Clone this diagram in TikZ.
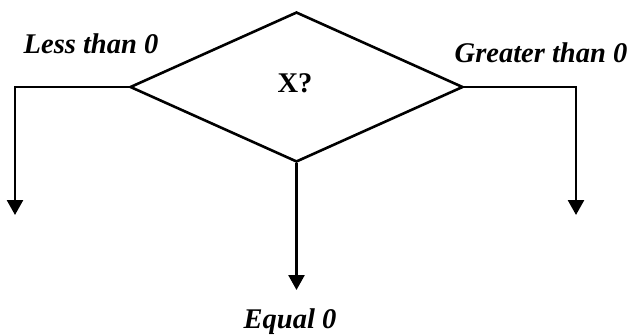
\documentclass[tikz,border=0pt]{standalone}
\usepackage{fontspec}
\setmainfont{Liberation Serif}
\usetikzlibrary{shapes.geometric,arrows.meta}
\tikzset{
  line/.style={line width=2.6pt, line join=miter},
  arr/.style={line, -{Triangle[width=16pt,length=15pt]}},
  lbl/.style={font=\fontsize{28.5}{30}\selectfont\bfseries\itshape, inner sep=0pt, anchor=base},
  ttl/.style={font=\fontsize{28.5}{30}\selectfont\bfseries, inner sep=0pt, anchor=base},
  decision/.style={diamond, draw, line width=2.6pt, minimum width=333pt, minimum height=150pt, inner sep=0pt}
}
\begin{document}
\begin{tikzpicture}[x=1pt,y=-1pt]
\useasboundingbox (0,0) rectangle (631,335);
\node[decision] (d) at (296.5,87) {};
\node[ttl] (x) at (295,92) {X?};
\coordinate (lc) at (15,87);
\coordinate (le) at (15,215);
\coordinate (rc) at (576,87);
\coordinate (re) at (576,215);
\coordinate (be) at (296.5,290);
\draw[arr] (d.west) -- (lc) -- (le);
\draw[arr] (d.east) -- (rc) -- (re);
\draw[arr] (d.south) -- (be);
\node[lbl] (less) at (91,53) {Less than 0};
\node[lbl] (gt) at (541,62) {Greater than 0};
\node[lbl] (eq) at (290,328) {Equal 0};
\end{tikzpicture}
\end{document}
